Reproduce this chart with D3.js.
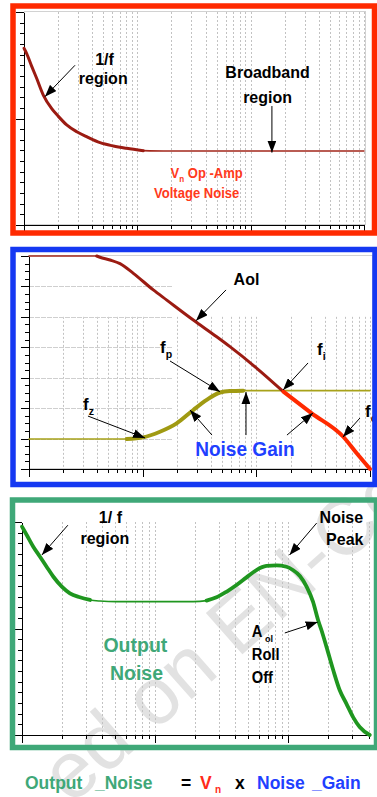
<!DOCTYPE html>
<html>
<head>
<meta charset="utf-8">
<title>Noise gain and output noise</title>
<script src="https://d3js.org/d3.v7.min.js"></script>
<style>
  html, body { margin: 0; padding: 0; background: #fff; overflow: hidden; }
  svg { display: block; }
  text { font-family: "Liberation Sans", Arial, sans-serif; font-weight: bold; }
  .grid line { stroke: #c2c2c2; stroke-width: 1; stroke-dasharray: 2,2; }
  .hgrid line { stroke: #cfcfcf; stroke-width: 1; stroke-dasharray: 5,1; }
  .axis path, .axis line { stroke: #000; stroke-width: 1; shape-rendering: crispEdges; }
  .arrow { stroke: #000; stroke-width: 1; fill: none; marker-end: url(#head); }
  .watermark { font-weight: normal; fill: #e2e2e2; }
</style>
</head>
<body>
<svg width="377" height="797"></svg>
<script>
// ---- panel 1 : op-amp voltage noise (1/f + broadband)
const vnFreq  = [1, 1.056, 1.17, 1.29, 1.48, 1.75, 2.01, 2.38, 2.92, 3.57, 4.69, 6.14, 8.05, 11.3, 16.9, 1000];
const vnLevel = [16.6, 16.1, 14.9, 13.8, 12.2, 10.95, 10.2, 9.4, 8.76, 8.29, 7.73, 7.42, 7.2, 6.98, 6.95, 6.95];

// ---- panel 2 : open loop gain and noise gain (dB)
const aolFreq = [1, 3.94, 4.21, 5.16, 6.32, 8.28, 12.4, 16.3, 27.9, 44.8, 58.6, 101, 173, 307, 582, 764, 1000];
const aolGain = [140, 140, 139.2, 137.4, 135, 128.6, 117.7, 111, 97.9, 86.9, 80.4, 66.2, 50.8, 36.6, 21.2, 10.3, 0];
const ngFreq  = [1, 7.24, 10.1, 14.2, 19.9, 27.9, 36.6, 47.9, 58.6, 76.8, 1000];
const ngGain  = [19.7, 19.7, 20.8, 24.5, 30, 38.8, 45.4, 50.3, 51.3, 51.5, 51.5];
const fiFreq = 173;

// ---- panel 3 : output noise
const outFreq  = [1, 1.085, 1.215, 1.365, 1.53, 1.72, 1.99, 2.29, 2.72, 3.24, 3.85, 5.13, 19.3, 24.3, 28.9, 34.3,
                  40.8, 48.5, 57.6, 68.5, 81.4, 96.7, 108, 122, 137, 153, 167, 177, 193, 217, 243, 273, 306, 343, 408];
const outLevel = [19.56, 18.78, 17.68, 16.74, 15.8, 14.86, 13.93, 13.3, 12.93, 12.68, 12.58, 12.52, 12.52, 12.62, 12.93, 13.45,
                  14.08, 14.8, 15.49, 15.87, 15.93, 15.8, 15.49, 14.93, 13.93, 12.52, 10.8, 9.86, 8.3, 6.1, 4.2, 2.93, 1.68, 0.75, 0];

// ---- annotations, in data coordinates (freq, level)
const p1Notes = [
  { f: 5.13, v: 15.05, parts: [["1/f"]], kind: "note" },
  { f: 5.0, v: 13.2, parts: [["region"]], kind: "note" },
  { f: 141, v: 13.77, parts: [["Broadband"]], kind: "note" },
  { f: 141, v: 11.43, parts: [["region"]], kind: "note" },
  { f: 40.9, v: 4.41, parts: [["V"], ["n", 1], [" Op  -Amp"]], kind: "red" },
  { f: 33.4, v: 2.54, parts: [["Voltage Noise"]], kind: "red" }
];
const p1Arrows = [[2.82, 15.0, 1.53, 12.05], [154, 11.17, 154, 6.8]];

const p2Notes = [
  { f: 81.9, v: 120.9, parts: [["Aol"]], kind: "note" },
  { f: 14.2, v: 76.2, parts: [["f"], ["p", 1]], kind: "sym" },
  { f: 342, v: 74.9, parts: [["f"], ["i", 1]], kind: "sym" },
  { f: 2.99, v: 38.8, parts: [["f"], ["z", 1]], kind: "sym" },
  { f: 903, v: 34.2, parts: [["f"], ["c", 1]], kind: "sym" },
  { f: 79.4, v: 8.5, parts: [["Noise Gain"]], kind: "blue" }
];
const p2Arrows = [
  [54.1, 117.7, 29.5, 97.5], [17.4, 71.0, 47.9, 50.8], [285, 69.7, 172, 51.9],
  [3.30, 34.8, 10.5, 20.4], [816, 33.5, 578, 21.0],
  [40.7, 22.3, 26.1, 38.8], [81.1, 22.3, 81.1, 50.6], [186, 22.3, 315, 36.8]
];

const p3Notes = [
  { f: 4.61, v: 19.9, parts: [["1/ f"]], kind: "note" },
  { f: 4.19, v: 17.93, parts: [["region"]], kind: "note" },
  { f: 250, v: 19.9, parts: [["Noise"]], kind: "note" },
  { f: 265, v: 17.84, parts: [["Peak"]], kind: "note" },
  { f: 53.1, v: 9.2, parts: [["A"], [" ol", 1]], kind: "left" },
  { f: 53.1, v: 7.04, parts: [["Roll"]], kind: "left" },
  { f: 53.1, v: 4.88, parts: [["Off"]], kind: "left" },
  { f: 7.1, v: 7.8, parts: [["Output"]], kind: "green" },
  { f: 7.23, v: 5.16, parts: [["Noise"]], kind: "green" }
];
const p3Arrows = [[2.21, 19.7, 1.41, 16.9], [163, 19.9, 102, 16.9], [94, 9.58, 166, 10.6]];

const noteStyle = {
  note:  { size: 16.5, sx: 0.97, color: "#000", anchor: "middle" },
  left:  { size: 16, sx: 0.92, color: "#000", anchor: "start" },
  sym:   { size: 17, sx: 1, color: "#000", anchor: "start" },
  red:   { size: 14.2, sx: 0.92, color: "#ff3a1c", anchor: "middle" },
  blue:  { size: 20.5, sx: 0.93, color: "#1f40ff", anchor: "middle" },
  green: { size: 19.5, sx: 1, color: "#3fa878", anchor: "middle" }
};

const svg = d3.select("svg");
svg.append("rect").attr("width", 377).attr("height", 797).attr("fill", "#fff");

svg.append("defs").append("marker")
  .attr("id", "head").attr("markerUnits", "userSpaceOnUse")
  .attr("viewBox", "0 0 12 9").attr("markerWidth", 12).attr("markerHeight", 9)
  .attr("refX", 12).attr("refY", 4.5).attr("orient", "auto")
  .append("path").attr("d", "M0,0L12,4.5L0,9Z").attr("fill", "#000");

const isMajor = t => Math.abs(Math.log10(t) - Math.round(Math.log10(t))) < 1e-9;

function makePanel(p) {
  const x = d3.scaleLog().domain(p.xDomain).range(p.xRange);
  const y = d3.scaleLinear().domain(p.yDomain).range(p.yRange);
  const g = svg.append("g");
  const yb = p.yRange[0], yt = p.yRange[1];

  if (p.frameRight) {
    g.append("rect").attr("x", p.xRange[0] + 0.5).attr("y", yt - 0.5)
      .attr("width", p.frameRight - p.xRange[0]).attr("height", yb - yt)
      .attr("fill", "none").attr("stroke", "#d2d2d2");
  }

  const xt = x.ticks();
  g.append("g").attr("class", "grid").selectAll("line")
    .data(xt.filter(t => t > p.xDomain[0]))
    .join("line")
    .attr("x1", d => Math.round(x(d)) + 0.5).attr("x2", d => Math.round(x(d)) + 0.5)
    .attr("y1", y(p.vGridTop)).attr("y2", yb);

  if (p.hGrid) {
    g.append("g").attr("class", "hgrid").selectAll("line")
      .data(d3.range(p.yMajor, p.yDomain[1], p.yMajor))
      .join("line")
      .attr("x1", p.xRange[0]).attr("x2", x(p.hGrid))
      .attr("y1", d => Math.round(y(d)) + 0.5).attr("y2", d => Math.round(y(d)) + 0.5);
  }

  const xa = g.append("g").attr("transform", `translate(0,${yb})`);
  xa.append("g").attr("class", "axis")
    .call(d3.axisBottom(x).tickValues(xt.filter(t => !isMajor(t))).tickSize(4).tickSizeOuter(0).tickFormat(""));
  xa.append("g").attr("class", "axis")
    .call(d3.axisBottom(x).tickValues(xt.filter(isMajor)).tickSize(8).tickSizeOuter(0).tickFormat(""));

  const yAll = d3.range(p.yDomain[0], p.yDomain[1] + 1e-9, p.yMinor);
  const ya = g.append("g").attr("transform", `translate(${p.xRange[0]},0)`);
  ya.append("g").attr("class", "axis")
    .call(d3.axisLeft(y).tickValues(yAll.filter(v => v % p.yMajor !== 0)).tickSize(4).tickSizeOuter(0).tickFormat(""));
  ya.append("g").attr("class", "axis")
    .call(d3.axisLeft(y).tickValues(yAll.filter(v => v % p.yMajor === 0)).tickSize(8).tickSizeOuter(0).tickFormat(""));

  return { x, y, g };
}

function drawCurve(P, freqs, vals, range, color, width) {
  const pts = freqs.map((f, i) => [f, vals[i]]).filter(d => d[0] >= range[0] && d[0] <= range[1]);
  const line = d3.line().x(d => P.x(d[0])).y(d => P.y(d[1])).curve(d3.curveMonotoneX);
  P.g.append("path").attr("d", line(pts)).attr("fill", "none")
    .attr("stroke", color).attr("stroke-width", width)
    .attr("stroke-linejoin", "round").attr("stroke-linecap", "round");
}

function drawNotes(P, notes, arrows) {
  P.g.selectAll(null).data(arrows).join("line").attr("class", "arrow")
    .attr("x1", d => P.x(d[0])).attr("y1", d => P.y(d[1]))
    .attr("x2", d => P.x(d[2])).attr("y2", d => P.y(d[3]));
  notes.forEach(n => {
    const s = noteStyle[n.kind];
    const t = P.g.append("text")
      .attr("transform", `translate(${P.x(n.f)},${P.y(n.v)}) scale(${s.sx},1)`)
      .attr("text-anchor", s.anchor).attr("font-size", s.size).attr("fill", s.color);
    let shifted = false;
    n.parts.forEach(([txt, sub]) => {
      const ts = t.append("tspan").text(txt);
      const d = s.size * 0.28;
      if (sub) { ts.attr("font-size", s.size * 0.62).attr("dy", d); shifted = true; }
      else if (shifted) { ts.attr("dy", -d); shifted = false; }
    });
  });
}

// panel 1
const P1 = makePanel({ xDomain: [1, 1000], xRange: [24, 364], yDomain: [0, 20], yRange: [225, 12],
  yMinor: 1, yMajor: 10, frameRight: 365, vGridTop: 20 });
drawCurve(P1, vnFreq, vnLevel, [11.3, 1000], "#a3271b", 1.6);
drawCurve(P1, vnFreq, vnLevel, [1, 11.3], "#9b1b12", 3);
drawNotes(P1, p1Notes, p1Arrows);

// panel 2
const P2 = makePanel({ xDomain: [1, 1000], xRange: [29, 370], yDomain: [0, 140], yRange: [469, 256],
  yMinor: 5, yMajor: 20, frameRight: 372, vGridTop: 100, hGrid: 18.5 });
drawCurve(P2, ngFreq, ngGain, [1, 1000], "#a8a21a", 1.6);
drawCurve(P2, ngFreq, ngGain, [7.24, 76.8], "#a09a12", 4);
drawCurve(P2, aolFreq, aolGain, [1, 4.21], "#a3271b", 1.6);
drawCurve(P2, aolFreq, aolGain, [3.94, fiFreq], "#9b1b12", 3);
drawCurve(P2, aolFreq, aolGain, [fiFreq, 1000], "#ff2a00", 4);
drawNotes(P2, p2Notes, p2Arrows);

// panel 3
const P3 = makePanel({ xDomain: [1, 410], xRange: [22, 370], yDomain: [0, 20], yRange: [735, 522],
  yMinor: 1, yMajor: 10, vGridTop: 20 });
svg.append("text").attr("class", "watermark")
  .attr("transform", "translate(71,806) rotate(-41.5)")
  .attr("font-size", 80).text("ed on EN-Co");
drawCurve(P3, outFreq, outLevel, [1, 1000], "#1f961f", 1.6);
drawCurve(P3, outFreq, outLevel, [1, 3.24], "#1f961f", 3.8);
drawCurve(P3, outFreq, outLevel, [24.3, 1000], "#1f961f", 3.8);
P3.g.raise();
drawNotes(P3, p3Notes, p3Arrows);

// panel frames
const frames = [
  { x: 13, y: 6, w: 361.5, h: 227, c: "#ff2a00" },
  { x: 13, y: 249.5, w: 362, h: 235, c: "#1538f2" },
  { x: 12.5, y: 500, w: 364, h: 247.5, c: "#3fa878" }
];
svg.selectAll(null).data(frames).join("rect")
  .attr("x", d => d.x).attr("y", d => d.y).attr("width", d => d.w).attr("height", d => d.h)
  .attr("fill", "none").attr("stroke", d => d.c).attr("stroke-width", 5.5);

// formula
const f = svg.append("text").attr("y", 789).attr("font-size", 17.5);
[["Output", 25, "#3fa878"], ["_Noise", 95, "#3fa878"], ["=", 181, "#000"], ["V", 200, "#ff2a1a"],
 ["x", 235, "#000"], ["Noise", 257, "#1f40ff"], ["_Gain", 312, "#1f40ff"]].forEach(([t, px, c]) => {
  f.append("tspan").attr("x", px).attr("fill", c).text(t);
});
svg.append("text").attr("x", 215).attr("y", 793).attr("font-size", 10).attr("fill", "#ff2a1a").text("n");
</script>
</body>
</html>
